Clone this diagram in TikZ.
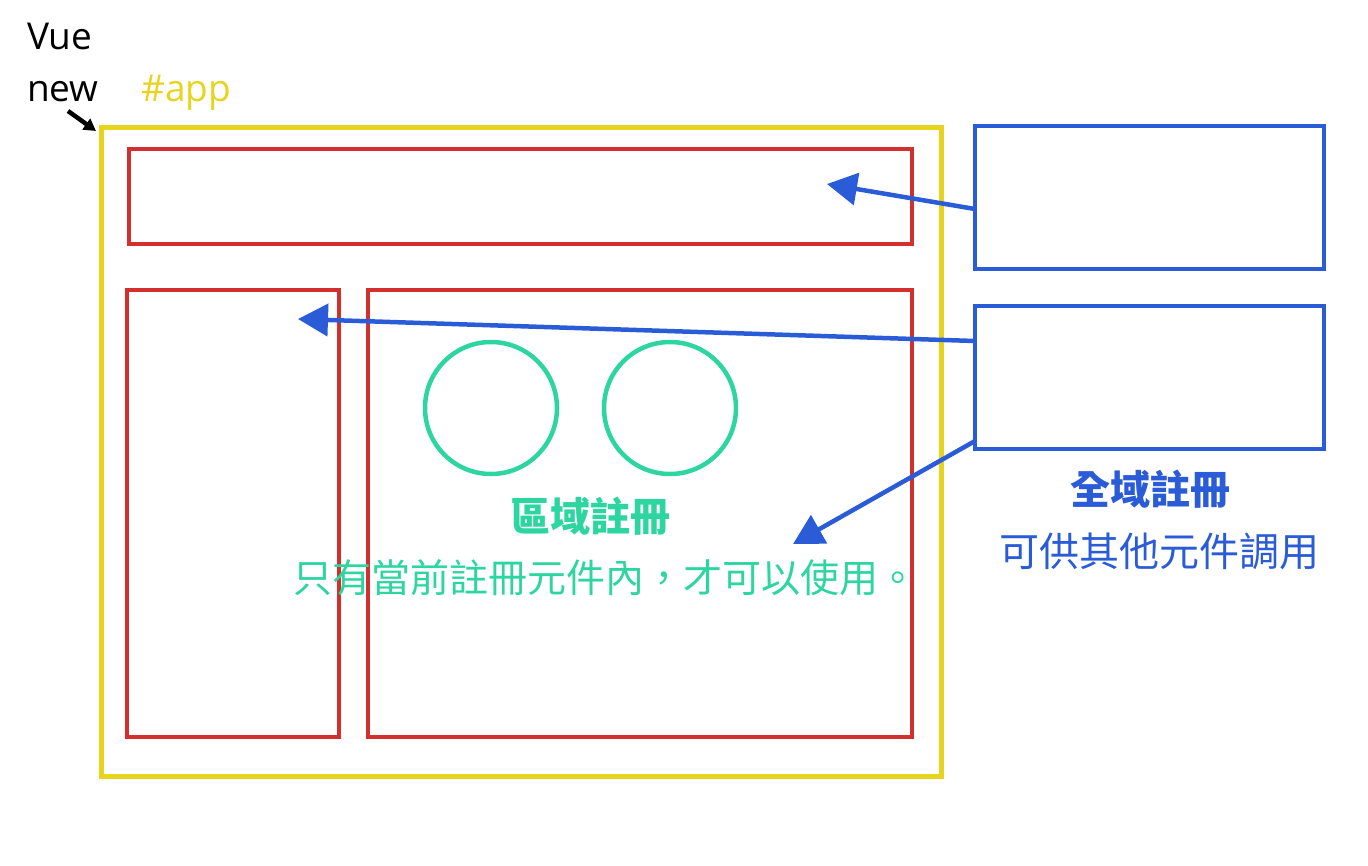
\documentclass[tikz,border=0pt]{standalone}
\usepackage{fontspec}
\setmainfont{Open Sans}
\newfontfamily\cjk{Noto Sans CJK TC}
\usetikzlibrary{arrows.meta}
\definecolor{appyellow}{HTML}{E8D41E}
\definecolor{compred}{HTML}{D32F2F}
\definecolor{globblue}{HTML}{2B5CD8}
\definecolor{locgreen}{HTML}{2ED69F}
\tikzset{
  box/.style={draw, line width=4.5pt, inner sep=0pt, fill=none},
  bluebox/.style={box, draw=globblue},
  redbox/.style={box, draw=compred},
  ring/.style={draw=locgreen, line width=4.5pt, circle, inner sep=0pt, minimum size=132pt},
  bluearrow/.style={draw=globblue, line width=4.5pt, -{Triangle[length=30pt,width=32pt,fill=globblue]}},
  lbl/.style={inner sep=0pt, font=\fontsize{37}{42}\selectfont}
}
\begin{document}
\begin{tikzpicture}[x=1pt,y=-1pt]
\useasboundingbox (0,0) rectangle (1368,865);
% app container
\node[box, draw=appyellow, line width=5pt, minimum width=840pt, minimum height=649pt] (app) at (521.5,451.5) {};
% components
\node[redbox, minimum width=783pt, minimum height=95pt] (top) at (520.5,196.5) {};
\node[redbox, minimum width=212pt, minimum height=447pt] (left) at (233,513.5) {};
\node[redbox, minimum width=544pt, minimum height=447pt] (right) at (640,513.5) {};
% local circles
\node[ring] (c1) at (491,408) {};
\node[ring] (c2) at (670,408) {};
% global boxes
\node[bluebox, minimum width=349pt, minimum height=143pt] (g1) at (1149.5,197.5) {};
\node[bluebox, minimum width=349pt, minimum height=143pt] (g2) at (1149.5,377.5) {};
% labels
\node[lbl, anchor=base west] (vue) at (27,49) {Vue};
\node[lbl, anchor=base west] (new) at (27,101) {new};
\node[lbl, anchor=base west, text=appyellow] (appl) at (141,101) {\#app};
\node[inner sep=0pt, text=locgreen, font=\cjk\bfseries\fontsize{40}{44}\selectfont] (loc) at (590,516) {區域註冊};
\node[inner sep=0pt, text=locgreen, font=\cjk\fontsize{39}{44}\selectfont] (locd) at (605,578) {只有當前註冊元件內，才可以使用。};
\node[inner sep=0pt, text=globblue, font=\cjk\bfseries\fontsize{40}{44}\selectfont] (glob) at (1150,489) {全域註冊};
\node[inner sep=0pt, text=globblue, font=\cjk\fontsize{40}{44}\selectfont] (globd) at (1159,551) {可供其他元件調用};
% arrow endpoints
\coordinate (s1) at (975,209);
\coordinate (t1) at (827,184);
\coordinate (s2) at (975,341);
\coordinate (t2) at (298,319);
\coordinate (s3) at (975,441);
\coordinate (t3) at (793,544);
\coordinate (n1) at (68,111);
\coordinate (n2) at (96,131);
\draw[bluearrow] (s1) -- (t1);
\draw[bluearrow] (s2) -- (t2);
\draw[bluearrow] (s3) -- (t3);
\draw[line width=4.5pt, -{Triangle[length=12pt,width=13pt]}] (n1) -- (n2);
\end{tikzpicture}
\end{document}
